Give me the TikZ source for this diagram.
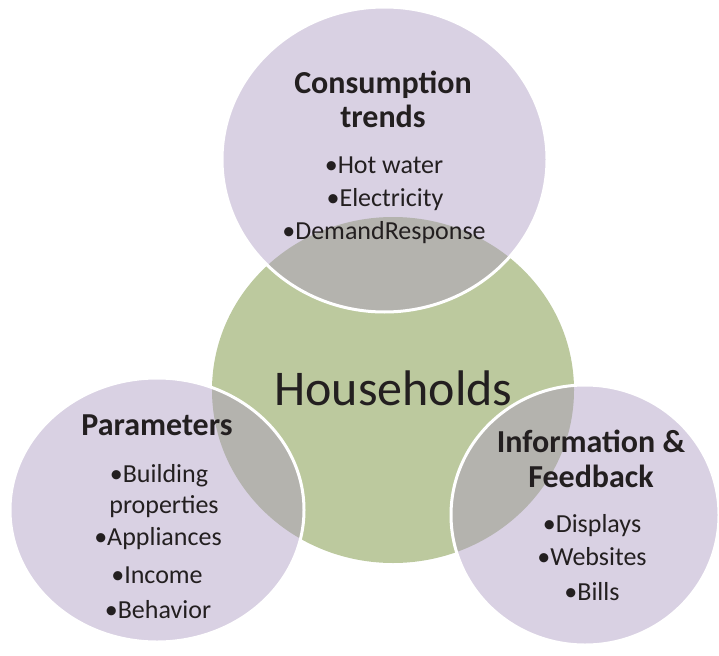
\documentclass[tikz,border=0pt]{standalone}
\usepackage{fontspec}
\setmainfont{Carlito}
\definecolor{vpurple}{RGB}{217,209,227}
\definecolor{vgreen}{RGB}{188,201,158}
\definecolor{vgrey}{RGB}{180,179,174}
\definecolor{vtext}{RGB}{35,31,32}
\begin{document}
\begin{tikzpicture}[x=1pt,y=-1pt,
  title/.style={font=\fontsize{32}{32}\selectfont\bfseries, text=vtext, anchor=base, inner sep=0pt},
  item/.style={font=\fontsize{26}{26}\selectfont, text=vtext, anchor=base, inner sep=0pt},
  big/.style={font=\fontsize{50}{50}\selectfont, text=vtext, anchor=base, inner sep=0pt},
  rim/.style={draw=white, line width=3pt}]
\useasboundingbox (0,0) rectangle (719,655);
% ellipse geometry
\def\topE{(384.5,159.5) ellipse [x radius=162.5, y radius=152.5]}
\def\midE{(393,390) ellipse [x radius=181, y radius=173]}
\def\leftE{(157,510) ellipse [x radius=147, y radius=132]}
\def\rightE{(585,515) ellipse [x radius=134, y radius=130]}
% fills
\fill[vgreen] \midE;
\fill[vpurple] \topE;
\fill[vpurple] \leftE;
\fill[vpurple] \rightE;
% overlaps
\begin{scope}
  \clip \midE;
  \fill[vgrey] \topE;
  \fill[vgrey] \leftE;
  \fill[vgrey] \rightE;
\end{scope}
% white rims
\draw[rim] \topE;
\draw[rim] \leftE;
\draw[rim] \rightE;
% texts
\node[big] (hh) at (393.5,405) {Households};
\node[title] (ct1) at (383,94) {Consumption};
\node[title] (ct2) at (383,128) {trends};
\node[item] (ct3) at (384,174) {•Hot water};
\node[item] (ct4) at (385,206) {•Electricity};
\node[item] (ct5) at (384,239) {•DemandResponse};
\node[title] (pa1) at (157,435) {Parameters};
\node[item] (pa2) at (159,482) {•Building};
\node[item] (pa3) at (164,513) {properties};
\node[item] (pa4) at (158,545) {•Appliances};
\node[item] (pa5) at (157,583) {•Income};
\node[item] (pa6) at (158,618) {•Behavior};
\node[title] (if1) at (591,452) {Information \&};
\node[title] (if2) at (591,487) {Feedback};
\node[item] (if3) at (592,532) {•Displays};
\node[item] (if4) at (592,565) {•Websites};
\node[item] (if5) at (592,600) {•Bills};
\end{tikzpicture}
\end{document}
